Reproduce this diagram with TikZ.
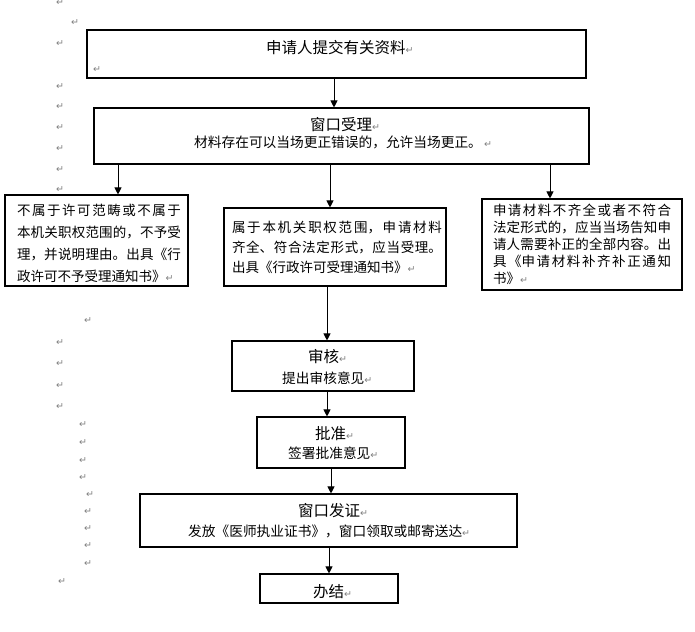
\documentclass[tikz,border=0pt]{standalone}
\usepackage{fontspec}
\usetikzlibrary{arrows.meta}
\newfontfamily\cjk{Noto Sans CJK SC}
\newfontfamily\symf{DejaVu Sans}
\definecolor{retgray}{RGB}{128,128,128}
\XeTeXlinebreaklocale "zh"
\XeTeXlinebreakskip=0pt plus 4pt
\newcommand{\rmk}{{\symf\fontsize{9.5}{9.5}\selectfont\textcolor{retgray}{↵}}}
\tikzset{
  box/.style={draw=black, line width=1.1pt, rectangle, inner sep=0pt},
  arr/.style={draw=black, line width=0.9pt, -{Triangle[width=7pt,length=7pt]}},
  ttl/.style={inner sep=0pt, anchor=west, font=\cjk\fontsize{15.5}{18}\selectfont},
  bdy/.style={inner sep=0pt, anchor=west, font=\cjk\fontsize{13.7}{16}\selectfont},
  para/.style={inner sep=0pt, align=justify, font=\cjk\fontsize{13.5}{#1}\selectfont},
  ret/.style={inner sep=0pt, text=retgray, font=\symf\fontsize{9.5}{9.5}\selectfont},
}
\begin{document}
\begin{tikzpicture}[x=1pt,y=-1pt]
\useasboundingbox (0,0) rectangle (695,631);

% boxes
\node[box, minimum width=499, minimum height=48] (b1) at (336.5,54) {};
\node[box, minimum width=495, minimum height=56] (b2) at (341.5,136) {};
\node[box, minimum width=183, minimum height=91] (bl) at (96.5,240.5) {};
\node[box, minimum width=222, minimum height=78] (bm) at (335,247) {};
\node[box, minimum width=200, minimum height=91] (br) at (582,244.5) {};
\node[box, minimum width=182, minimum height=50] (bs) at (323,366) {};
\node[box, minimum width=148, minimum height=51] (bp) at (331,442.5) {};
\node[box, minimum width=377, minimum height=53] (bf) at (328.5,520.5) {};
\node[box, minimum width=138, minimum height=29] (bj) at (329,588.5) {};

% texts
\node[ttl] (t1) at (266,48) {申请人提交有关资料\rmk};
\node[ret] (t1r) at (97,70) {↵};
\node[ttl] (t2a) at (310,125) {窗口受理\rmk};
\node[bdy] (t2b) at (194,142) {材料存在可以当场更正错误的，允许当场更正。\,\rmk};
\node[para=22, text width=164] (tl) at (99,243) {\noindent 不属于许可范畴或不属于\linebreak 本机关职权范围的，不予受\linebreak 理，并说明理由。出具《行\linebreak 政许可不予受理通知书》\rmk};
\node[para=20, text width=210] (tm) at (337,247) {\noindent 属于本机关职权范围，申请材料\linebreak 齐全、符合法定形式，应当受理。\linebreak 出具《行政许可受理通知书》\rmk};
\node[para=17, text width=178] (tr) at (582,244.5) {\noindent 申请材料不齐全或者不符合\linebreak 法定形式的，应当当场告知申\linebreak 请人需要补正的全部内容。出\linebreak 具《申请材料补齐补正通知\linebreak 书》\rmk};
\node[ttl] (tsa) at (308,357) {审核\rmk};
\node[bdy] (tsb) at (282,378) {提出审核意见\rmk};
\node[ttl] (tpa) at (315,434) {批准\rmk};
\node[bdy] (tpb) at (288,453) {签署批准意见\rmk};
\node[ttl] (tfa) at (298,511) {窗口发证\rmk};
\node[bdy] (tfb) at (188,531) {发放《医师执业证书》，窗口领取或邮寄送达\rmk};
\node[ttl] (tja) at (313,592) {办结\rmk};

% margin paragraph marks
\foreach \mx/\my [count=\i] in {60/3,75/23,60/44,60/87,60/107,60/128,60/149,60/170,60/190,88/321,60/343,60/364,60/386,60/407,83/425,83/443,83/461,83/478,90/495,88/512,88/529,88/546,88/564,62/582}
  \node[ret] (m\i) at (\mx,\my) {↵};

% arrow x positions
\coordinate (x1) at (334,0);
\coordinate (x2) at (118,0);
\coordinate (x3) at (330,0);
\coordinate (x4) at (550,0);
\coordinate (x5) at (327,0);
\coordinate (x6) at (327,0);
\coordinate (x7) at (331,0);
\coordinate (x8) at (329,0);

\draw[arr] (x1 |- b1.south) -- (x1 |- b2.north);
\draw[arr] (x2 |- b2.south) -- (x2 |- bl.north);
\draw[arr] (x3 |- b2.south) -- (x3 |- bm.north);
\draw[arr] (x4 |- b2.south) -- (x4 |- br.north);
\draw[arr] (x5 |- bm.south) -- (x5 |- bs.north);
\draw[arr] (x6 |- bs.south) -- (x6 |- bp.north);
\draw[arr] (x7 |- bp.south) -- (x7 |- bf.north);
\draw[arr] (x8 |- bf.south) -- (x8 |- bj.north);
\end{tikzpicture}
\end{document}
